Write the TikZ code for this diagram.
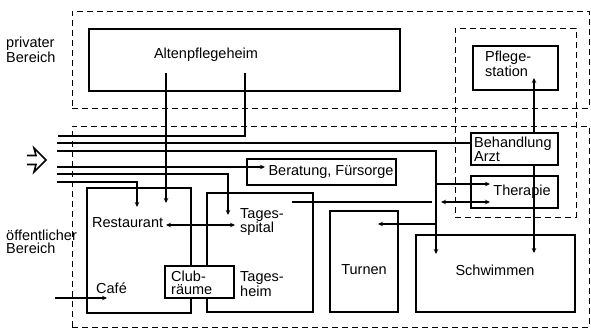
\documentclass[tikz,border=0pt]{standalone}
\usepackage{fontspec}
\setmainfont{Liberation Sans}
\usetikzlibrary{arrows.meta,fit}
\begin{document}
\begin{tikzpicture}[x=1pt,y=-1pt,
  box/.style={draw, line width=1.3pt, inner sep=0pt},
  zone/.style={draw, line width=1pt, dash pattern=on 6pt off 4pt, inner sep=0pt},
  lbl/.style={font=\fontsize{14.5}{12.5}\selectfont, inner sep=0pt, align=left},
  conn/.style={line width=1.2pt},
  arr/.style={conn, -{Stealth[length=5pt,width=4.5pt]}},
  barr/.style={conn, {Stealth[length=5pt,width=4.5pt]}-{Stealth[length=5pt,width=4.5pt]}},
]
\useasboundingbox[fill=white] (0,0) rectangle (591,333);

% zones
\node[zone, fit={(72,11) (589,108)}] (priv) {};
\node[zone, fit={(72,126) (589,327)}] (pub) {};
\node[zone, fit={(455,28) (576,217)}] (med) {};

% boxes
\node[box, fit={(89,29) (400,91)}] (alten) {};
\node[box, fit={(473,46) (558,90)}] (pflege) {};
\node[box, fit={(471,133) (558,165)}] (beh) {};
\node[box, fit={(471,176) (558,208)}] (ther) {};
\node[box, fit={(247,159) (396,185)}] (ber) {};
\node[box, fit={(87,188) (191,313)}] (rest) {};
\node[box, fit={(207,193) (313,312)}] (tages) {};
\node[box, fit={(330,211) (398,312)}] (turn) {};
\node[box, fit={(416,235) (575,312)}] (schw) {};

% entrance symbol (hollow arrow)
\draw[line width=1.6pt, line join=miter] (27,155.5) -- (36,155.5) -- (34,148) -- (46,160) -- (34,172) -- (36,164.5) -- (27,164.5);

% connector end points
\coordinate (e1) at (58,136);
\coordinate (e2) at (57,143);
\coordinate (e3) at (57,151);
\coordinate (e4) at (57,167);
\coordinate (e5) at (57,174);
\coordinate (e6) at (57,182);
\coordinate (a1) at (166,73);
\coordinate (a2) at (245,73);
\coordinate (re1) at (137,207);
\coordinate (re2) at (166,203);
\coordinate (re3) at (166,225);
\coordinate (ts1) at (228,215);
\coordinate (ts2) at (235,225);
\coordinate (ts3) at (292,202);
\coordinate (gapL) at (432,202);
\coordinate (gapR) at (441,202);
\coordinate (th1) at (490,184);
\coordinate (th2) at (490,202);
\coordinate (j1) at (436,184);
\coordinate (j2) at (436,224);
\coordinate (tu1) at (378,224);
\coordinate (sw1) at (436,254);
\coordinate (sw2) at (534,253);
\coordinate (be1) at (265,167);
\coordinate (bh1) at (534,133);
\coordinate (bh2) at (534,165);
\coordinate (pf1) at (534,78);
\coordinate (cafe0) at (55,298);
\coordinate (cafe1) at (107,298);

% connectors
\draw[conn] (e1) -| (a2);
\draw[conn] (e2) -- (e2 -| beh.west);
\draw[arr] (e3) -| (sw1);
\draw[arr] (j1) -- (th1);
\draw[arr] (j2) -- (tu1);
\draw[arr] (e4) -- (be1);
\draw[arr] (e5) -| (ts1);
\draw[arr] (e6) -| (re1);
\draw[arr] (a1) -- (re2);
\draw[barr] (re3) -- (ts2);
\draw[arr] (cafe0) -- (cafe1);
\draw[barr] (ts3) -- (gapL) (gapR) -- (th2);
\draw[arr] (bh1) -- (pf1);
\draw[arr] (bh2) -- (sw2);

% Clubraeume on top
\node[box, fill=white, fit={(165,266) (234,298)}] (club) {};

% labels
\node[lbl, anchor=west] (tpriv) at (6,50) {privater\\Bereich};
\node[lbl, anchor=west] (tpub) at (6,242) {öffentlicher\\Bereich};
\node[lbl] (talten) at (206,55) {Altenpflegeheim};
\node[lbl, anchor=west] (tpflege) at (485,64) {Pflege-\\station};
\node[lbl, anchor=west] (tbeh) at (474,149) {Behandlung\\Arzt};
\node[lbl] (tther) at (522,192) {Therapie};
\node[lbl] (tber) at (331,172) {Beratung, Fürsorge};
\node[lbl, anchor=west] (trest) at (92,223) {Restaurant};
\node[lbl, anchor=west] (tcafe) at (96,288) {Café};
\node[lbl, anchor=west] (tspital) at (240,222) {Tages-\\spital};
\node[lbl, anchor=west] (theim) at (240,284) {Tages-\\heim};
\node[lbl, anchor=west] (tclub) at (171,283) {Club-\\räume};
\node[lbl] (tturn) at (364,270) {Turnen};
\node[lbl] (tschw) at (495,270) {Schwimmen};
\end{tikzpicture}
\end{document}
